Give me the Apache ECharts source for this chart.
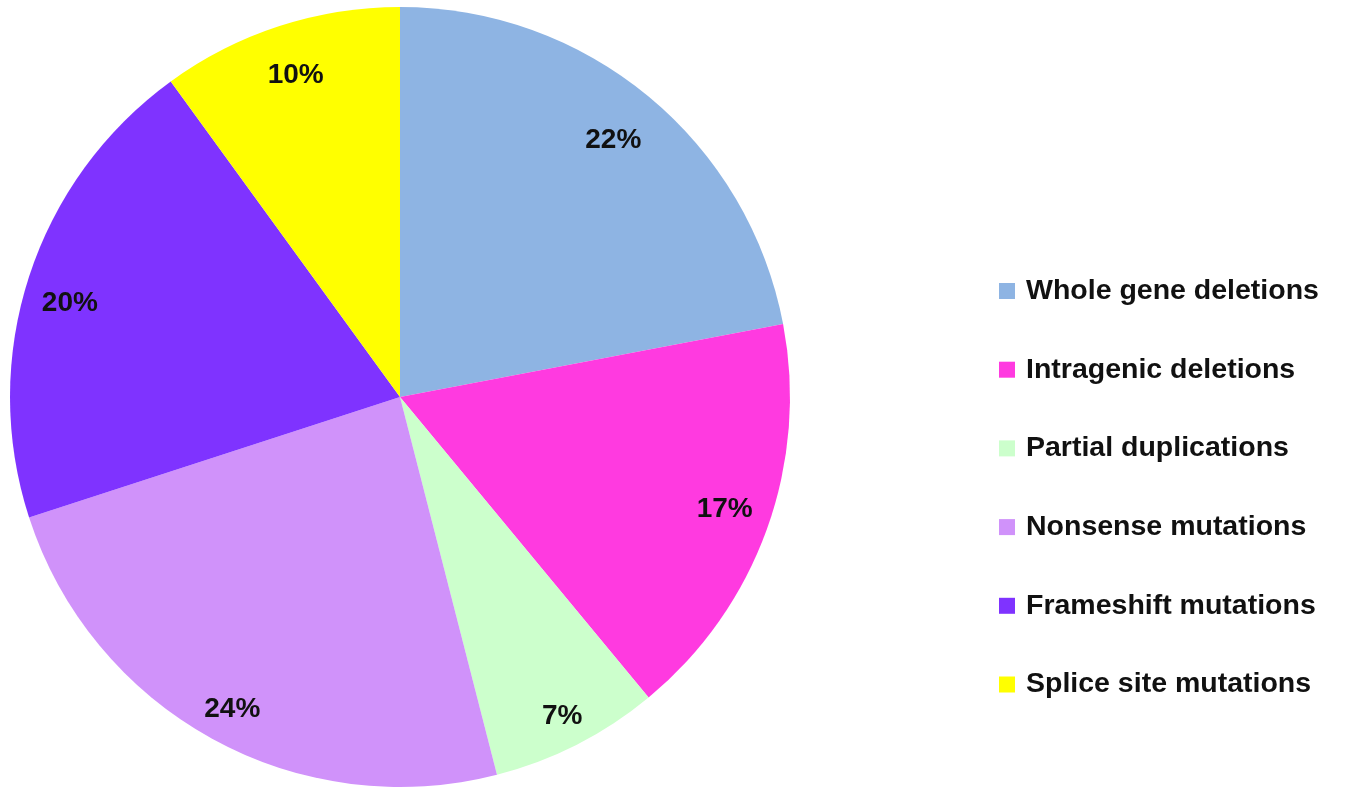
<!DOCTYPE html>
<html><head><meta charset="utf-8">
<script src="https://cdn.jsdelivr.net/npm/echarts@6/dist/echarts.min.js"></script>
<style>html,body{margin:0;padding:0;background:#fff}#c{width:1345px;height:795px}</style>
</head><body><div id="c"></div>
<script>
const categories = ['Whole gene deletions','Intragenic deletions','Partial duplications','Nonsense mutations','Frameshift mutations','Splice site mutations'];
const values = [22, 17, 7, 24, 20, 10];
const colors = ['#8EB4E3','#FF3AE0','#CCFFCC','#D092FA','#7F33FF','#FFFF00'];
// small per-label nudges (pixels) to match the hand-placed labels of the original
const labelNudges = [[-6,8],[1,-4],[6,13],[-2,11],[-3,13],[2,5]];

const data = categories.map((n,i)=>({name:n, value:values[i], itemStyle:{color:colors[i]}}));
const chart = echarts.init(document.getElementById('c'));
chart.setOption({
  animation:false,
  legend:{
    orient:'vertical', left:999, top:276, padding:0,
    itemWidth:16, itemHeight:16, itemGap:48.7, icon:'rect',
    textStyle:{fontFamily:'Liberation Sans', fontWeight:'bold', fontSize:28.5, lineHeight:30, color:'#111', padding:[0,0,0,6]},
    data:categories
  },
  series:[{
    type:'pie', center:[400,397], radius:[0,390], startAngle:90, clockwise:true,
    label:{show:false}, labelLine:{show:false}, silent:true,
    itemStyle:{borderWidth:0},
    data:data
  },{
    type:'pie', center:[400,397], radius:[292,390], startAngle:90, clockwise:true,
    silent:true, legendHoverLink:false,
    itemStyle:{color:'rgba(0,0,0,0)'},
    label:{show:true, position:'inside', formatter:'{c}%', fontFamily:'Liberation Sans', fontWeight:'bold', fontSize:28, color:'#111'},
    labelLine:{show:false},
    data:categories.map((n,i)=>({name:n+' ', value:values[i], label:{offset:labelNudges[i]}}))
  }]
});
</script></body></html>
